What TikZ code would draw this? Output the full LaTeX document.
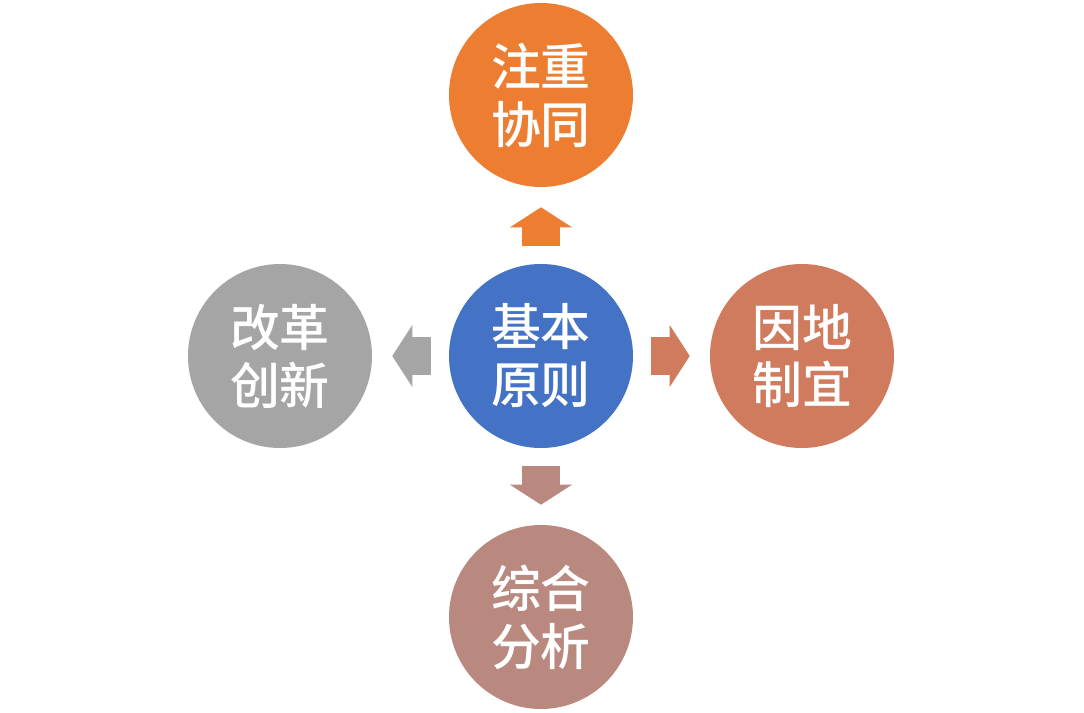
\documentclass[tikz,border=0pt]{standalone}
\usepackage{fontspec}
\newfontfamily\cjk{Noto Sans CJK SC Medium}
\usetikzlibrary{arrows.meta}
\definecolor{maincolor}{RGB}{68,114,196}
\definecolor{topcolor}{RGB}{237,125,49}
\definecolor{rightcolor}{RGB}{209,123,94}
\definecolor{bottomcolor}{RGB}{185,137,128}
\definecolor{leftcolor}{RGB}{165,165,165}

\begin{document}
\begin{tikzpicture}[
    circ/.style={circle, minimum size=4.6cm, inner sep=0pt, text=white, align=center,
        font=\cjk\fontsize{35.5pt}{41.2pt}\selectfont},
    blockarrow/.style={line width=0.95cm, shorten <=0.45cm, shorten >=0.5cm,
        -{Triangle[length=0.5cm, width=1.55cm, line width=0pt]}},
]
    \useasboundingbox (-13.525,-8.9) rectangle (13.575,8.9);

    % circles
    \node[circ, fill=maincolor] (main) at (0, 0) {基本\\原则};
    \node[circ, fill=topcolor] (top) at (0, 6.525) {注重\\协同};
    \node[circ, fill=rightcolor] (right) at (6.525, 0) {因地\\制宜};
    \node[circ, fill=bottomcolor] (bottom) at (0, -6.525) {综合\\分析};
    \node[circ, fill=leftcolor] (left) at (-6.525, 0) {改革\\创新};

    % arrows
    \draw[blockarrow, topcolor] (main) -- (top);
    \draw[blockarrow, rightcolor] (main) -- (right);
    \draw[blockarrow, bottomcolor] (main) -- (bottom);
    \draw[blockarrow, leftcolor] (main) -- (left);
\end{tikzpicture}
\end{document}
